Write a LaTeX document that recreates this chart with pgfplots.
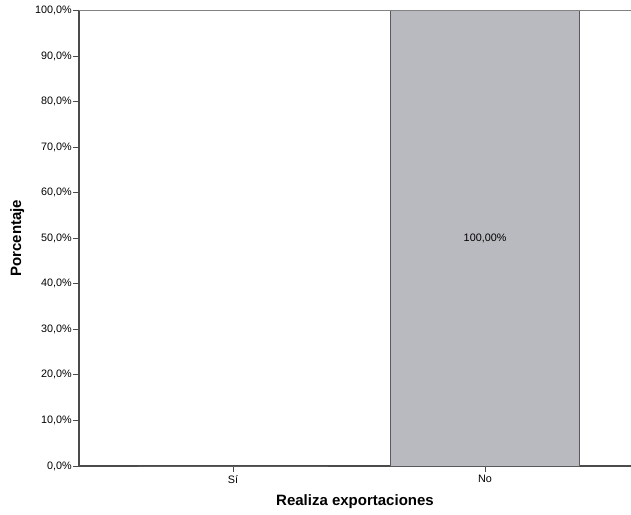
\documentclass[border=0pt]{standalone}
\usepackage{pgfplots}
\pgfplotsset{compat=1.18}
\usepackage{fontspec}
\setmainfont{Liberation Sans}
\definecolor{barfill}{RGB}{185,186,191}
\definecolor{baredge}{RGB}{90,90,90}
\definecolor{axisgray}{RGB}{75,75,75}
\definecolor{topgray}{RGB}{130,130,130}
\begin{document}
\begin{tikzpicture}
\begin{axis}[
  scale only axis, width=552pt, height=455.5pt,
  xmin=-0.611, xmax=1.579, ymin=0, ymax=100,
  axis lines=left,
  axis line style={axisgray, line width=1.3pt, -},
  ytick={0,10,...,100},
  yticklabel={\pgfmathprintnumber[fixed,fixed zerofill,precision=1,use comma]{\tick}\%},
  xtick={0,1}, xticklabels={Sí,No},
  tick style={axisgray, line width=1pt},
  major tick length=6pt, tick align=outside,
  /pgf/number format/assume math mode=true,
  tick label style={font=\fontsize{10.8}{12}\selectfont, text=black},
  yticklabel style={inner sep=1pt},
  every axis y label/.style={at={(axis description cs:-0.112,0.5)}, rotate=90, anchor=center},
  every axis x label/.style={at={(axis description cs:0.5,-0.079)}, anchor=center},
  label style={font=\fontsize{15}{17}\selectfont\bfseries},
  ylabel={Porcentaje}, xlabel={Realiza exportaciones},
  clip=false,
]
\addplot[ybar, bar width=0.75, fill=barfill, draw=baredge, line width=1pt] coordinates {(0,0) (1,100)};
\draw[topgray, line width=1pt] (rel axis cs:0,1) -- (rel axis cs:1,1);
\node[font=\fontsize{10.8}{12}\selectfont, text=black] at (axis cs:1,50) {100,00\%};
\end{axis}
\pgfresetboundingbox
\useasboundingbox (-79pt,-48pt) rectangle (552pt,466pt);
\end{tikzpicture}
\end{document}
